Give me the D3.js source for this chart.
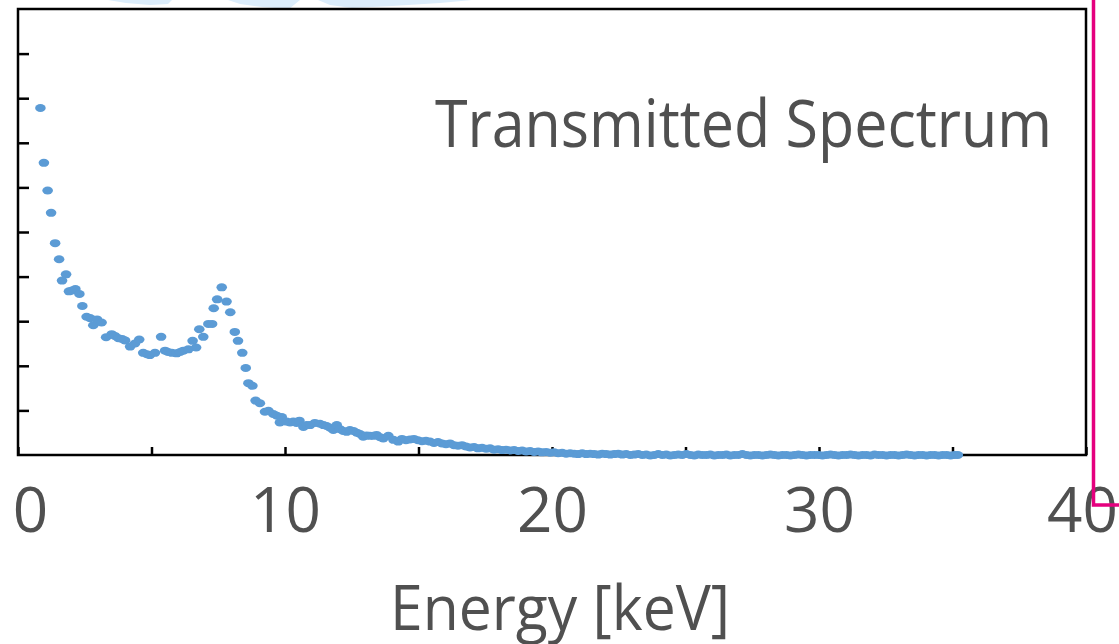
<!DOCTYPE html>
<html>
<head>
<meta charset="utf-8">
<script src="https://cdnjs.cloudflare.com/ajax/libs/d3/7.8.5/d3.min.js"></script>
<style>
  body { margin: 0; background: #fff; overflow: hidden; }
  #container svg { display: block; }
  .lbl { font-family: "Open Sans", "Noto Sans", sans-serif; fill: #505050; }
</style>
</head>
<body>
<div id="container"></div>
<script>
const w = 1119;
const h = 644;

// photon energy in keV
const energy = [
  0.84, 0.97, 1.11, 1.24, 1.39, 1.54, 1.65, 1.80, 1.91, 2.03, 2.15,
  2.30, 2.41, 2.57, 2.70, 2.82, 2.96, 3.13, 3.30, 3.51, 3.63,
  3.76, 3.90, 4.01, 4.20, 4.38, 4.54, 4.69, 4.83, 4.94, 5.13,
  5.36, 5.51, 5.62, 5.76, 5.94, 6.07, 6.19, 6.38, 6.54, 6.67,
  6.79, 6.94, 7.13, 7.27, 7.33, 7.46, 7.63, 7.81, 7.95, 8.12,
  8.24, 8.40, 8.53, 8.63, 8.78, 8.90, 9.06, 9.25, 9.38, 9.56,
  9.70, 9.81, 9.88, 10.06, 10.19, 10.31, 10.43, 10.54, 10.69, 10.81,
  10.94, 11.12, 11.31, 11.44, 11.56, 11.69, 11.81, 11.94, 12.06, 12.18,
  12.31, 12.43, 12.56, 12.69, 12.81, 12.93, 13.06, 13.18, 13.31, 13.43,
  13.56, 13.68, 13.87, 14.06, 14.24,
  14.38, 14.53, 14.68, 14.83, 14.98, 15.13, 15.28, 15.43, 15.58, 15.73,
  15.88, 16.03, 16.18, 16.33, 16.48, 16.63, 16.78, 16.93, 17.08, 17.23,
  17.38, 17.53, 17.68, 17.83, 17.98, 18.13, 18.28, 18.43, 18.58, 18.73,
  18.88, 19.03, 19.18, 19.33, 19.48, 19.63, 19.78, 19.93, 20.08, 20.23,
  20.38, 20.53, 20.68, 20.83, 20.98, 21.13, 21.28, 21.43, 21.58, 21.73,
  21.88, 22.03, 22.18, 22.33, 22.48, 22.63, 22.78, 22.93, 23.08, 23.23,
  23.38, 23.53, 23.68, 23.83, 23.98, 24.13, 24.28, 24.43, 24.58, 24.73,
  24.88, 25.03, 25.18, 25.33, 25.48, 25.63, 25.78, 25.93, 26.08, 26.23,
  26.38, 26.53, 26.68, 26.83, 26.98, 27.13, 27.28, 27.43, 27.58, 27.73,
  27.88, 28.03, 28.18, 28.33, 28.48, 28.63, 28.78, 28.93, 29.08, 29.23,
  29.38, 29.53, 29.68, 29.83, 29.98, 30.13, 30.28, 30.43, 30.58, 30.73,
  30.88, 31.03, 31.18, 31.33, 31.48, 31.63, 31.78, 31.93, 32.08, 32.23,
  32.38, 32.53, 32.68, 32.83, 32.98, 33.13, 33.28, 33.43, 33.58, 33.73,
  33.88, 34.03, 34.18, 34.33, 34.48, 34.63, 34.78, 34.93, 35.08, 35.20
];

// transmitted intensity, arbitrary units (one y tick = 1)
const intensity = [
  7.78, 6.55, 5.93, 5.43, 4.75, 4.39, 3.91, 4.05, 3.67, 3.69, 3.72,
  3.61, 3.34, 3.10, 3.07, 2.91, 3.04, 2.97, 2.64, 2.71, 2.67,
  2.62, 2.60, 2.57, 2.43, 2.50, 2.59, 2.29, 2.26, 2.24, 2.29,
  2.65, 2.34, 2.31, 2.29, 2.28, 2.31, 2.34, 2.37, 2.56, 2.41,
  2.82, 2.65, 2.94, 2.94, 3.29, 3.49, 3.76, 3.44, 3.20, 2.76,
  2.56, 2.29, 1.95, 1.61, 1.55, 1.22, 1.16, 0.97, 0.99, 0.92,
  0.88, 0.73, 0.85, 0.75, 0.73, 0.75, 0.72, 0.77, 0.63, 0.67,
  0.67, 0.72, 0.70, 0.67, 0.65, 0.61, 0.56, 0.67, 0.58, 0.54,
  0.52, 0.56, 0.54, 0.50, 0.47, 0.41, 0.44, 0.43, 0.43, 0.45,
  0.40, 0.37, 0.43, 0.34, 0.30,
  0.36, 0.33, 0.35, 0.36, 0.33, 0.31, 0.32, 0.30, 0.27, 0.29,
  0.26, 0.24, 0.26, 0.22, 0.21, 0.22, 0.19, 0.17, 0.18, 0.15,
  0.16, 0.14, 0.15, 0.12, 0.13, 0.11, 0.12, 0.10, 0.11, 0.09,
  0.10, 0.08, 0.09, 0.07, 0.08, 0.06, 0.07, 0.05, 0.06, 0.04,
  0.05, 0.03, 0.04, 0.03, 0.02, 0.04, 0.02, 0.03, 0.02, 0.01,
  0.03, 0.02, 0.01, 0.02, 0.03, 0.01, 0.02, 0.00, 0.01, 0.02,
  0.00, 0.01, -0.01, 0.00, 0.02, 0.00, 0.01, -0.01, 0.00, 0.01,
  0.00, 0.02, 0.00, -0.01, 0.01, 0.00, 0.00, 0.01, -0.01, 0.00,
  0.00, 0.01, -0.01, 0.00, 0.00, 0.02, 0.00, -0.01, 0.00, 0.00,
  -0.01, 0.00, 0.01, 0.00, -0.01, 0.00, 0.00, -0.01, 0.00, 0.01,
  0.00, -0.01, 0.00, 0.00, 0.00, -0.01, 0.00, 0.01, 0.00, -0.01,
  0.00, 0.00, 0.01, 0.00, -0.01, 0.00, 0.00, -0.01, 0.01, 0.00,
  0.00, -0.01, 0.00, 0.00, -0.01, 0.00, 0.01, 0.00, -0.01, 0.00,
  0.00, -0.01, 0.00, 0.00, -0.01, 0.00, 0.00, -0.01, 0.00, 0.00
];

const xTicks = [0, 5, 10, 15, 20, 25, 30, 35, 40];
const xLabels = [0, 10, 20, 30, 40];
const yTicks = [1, 2, 3, 4, 5, 6, 7, 8, 9];
const xTitle = "Energy [keV]";
const panelTitle = "Transmitted Spectrum";

document.addEventListener('DOMContentLoaded', function () {
  const left = 18, right = 1086, top = 9, bottom = 455;

  const scalex = d3.scaleLinear().domain([0, 40]).range([left, right]);
  const scaley = d3.scaleLinear().domain([0, 10]).range([bottom, top]);

  const svg = d3.select("#container")
    .append("svg")
    .attr("width", w)
    .attr("height", h);

  // faded logo pieces peeking in at the top
  const wm = ["M108,0 L172,0 L168,4 L150,5 L126,3 Z",
              "M228,0 L300,0 L289,9 L262,7 L240,4 Z",
              "M318,0 L472,0 L440,3 L392,6 L352,8 L330,5 Z"];
  svg.selectAll("path.wm").data(wm).enter().append("path")
    .attr("class", "wm").attr("d", d => d).attr("fill", "#dcedfb");

  svg.append("rect")
    .attr("x", left).attr("y", top)
    .attr("width", right - left).attr("height", bottom - top)
    .attr("fill", "none").attr("stroke", "#000").attr("stroke-width", 2.5);

  const yAxis = svg.append("g")
    .attr("transform", `translate(${left},0)`)
    .call(d3.axisLeft(scaley).tickValues(yTicks).tickSizeInner(-11).tickSizeOuter(0).tickFormat(""));
  yAxis.select(".domain").remove();
  yAxis.selectAll("line").attr("stroke", "#000").attr("stroke-width", 2.5);

  const xAxis = svg.append("g")
    .attr("transform", `translate(0,${bottom})`)
    .call(d3.axisBottom(scalex).tickValues(xTicks).tickSizeInner(-8).tickSizeOuter(0).tickFormat(""));
  xAxis.select(".domain").remove();
  xAxis.selectAll("line").attr("stroke", "#000").attr("stroke-width", 2.5);

  const points = energy.map((e, i) => [e, intensity[i]]).filter(p => p[1] !== undefined);

  svg.selectAll("ellipse.pt")
    .data(points)
    .enter()
    .append("ellipse")
    .attr("class", "pt")
    .attr("cx", d => scalex(d[0]))
    .attr("cy", d => scaley(d[1]))
    .attr("rx", 5.3)
    .attr("ry", 4)
    .attr("fill", "#5b9bd5");

  const xLab = svg.append("g")
    .attr("transform", `translate(0,${bottom})`)
    .call(d3.axisBottom(scalex).tickValues(xLabels).tickSize(0).tickPadding(33).tickFormat(d3.format("d")));
  xLab.select(".domain").remove();
  xLab.selectAll("text")
    .attr("class", "lbl")
    .style("font-size", "62px")
    .attr("fill", "#505050");
  xLab.selectAll("text").filter(d => d === 0).attr("dx", 12);
  xLab.selectAll("text").filter(d => d === 40).attr("dx", -4);

  svg.append("text")
    .attr("class", "lbl")
    .attr("x", 560).attr("y", 630)
    .attr("text-anchor", "middle")
    .attr("textLength", 340)
    .attr("lengthAdjust", "spacingAndGlyphs")
    .style("font-size", "63px")
    .text(xTitle);

  svg.append("text")
    .attr("class", "lbl")
    .attr("x", 1052).attr("y", 147)
    .attr("text-anchor", "end")
    .attr("textLength", 617)
    .attr("lengthAdjust", "spacingAndGlyphs")
    .style("font-size", "65px")
    .text(panelTitle);

  svg.append("path")
    .attr("d", `M1093.5,0 V505 H${w}`)
    .attr("fill", "none")
    .attr("stroke", "#e5007e")
    .attr("stroke-width", 3.5);
});
</script>
</body>
</html>
